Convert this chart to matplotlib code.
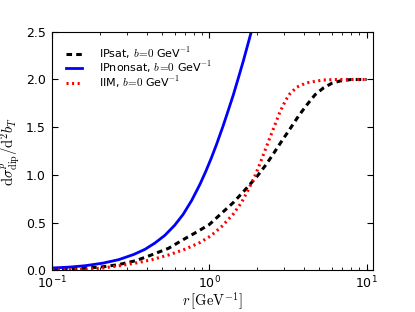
import matplotlib
matplotlib.use("Agg")
import matplotlib.pyplot as plt
from matplotlib.font_manager import FontProperties
from matplotlib.ticker import FormatStrFormatter

plt.rcParams['lines.scale_dashes'] = False

# IPsat
r_ipsat = [0.1, 0.13, 0.162, 0.21, 0.264, 0.34, 0.42, 0.55, 0.68, 0.85, 1.0, 1.2, 1.42, 1.68, 2.0, 2.3, 2.55, 2.9, 3.25, 3.7, 4.15, 4.7, 5.3, 6.0, 6.8, 8.0, 10.0]
v_ipsat = [0.006, 0.012, 0.021, 0.036, 0.058, 0.10, 0.155, 0.23, 0.32, 0.41, 0.48, 0.60, 0.71, 0.84, 0.98, 1.11, 1.22, 1.36, 1.48, 1.62, 1.73, 1.84, 1.91, 1.96, 1.985, 2.0, 2.0]

# IPnonsat
r_nonsat = [0.1, 0.13, 0.162, 0.21, 0.264, 0.33, 0.39, 0.45, 0.52, 0.60, 0.68, 0.77, 0.87, 0.95, 1.03, 1.11, 1.22, 1.32, 1.42, 1.53, 1.64, 1.75, 1.86]
v_nonsat = [0.023, 0.033, 0.047, 0.074, 0.11, 0.165, 0.22, 0.285, 0.365, 0.47, 0.585, 0.73, 0.90, 1.04, 1.18, 1.32, 1.51, 1.68, 1.84, 2.02, 2.19, 2.36, 2.52]

# IIM
r_iim = [0.1, 0.13, 0.162, 0.207, 0.264, 0.34, 0.43, 0.55, 0.70, 0.87, 1.02, 1.2, 1.42, 1.6, 1.75, 1.95, 2.1, 2.25, 2.4, 2.55, 2.81, 3.05, 3.25, 3.6, 4.15, 5.3, 6.5, 10.0]
v_iim = [0.003, 0.005, 0.01, 0.022, 0.045, 0.075, 0.11, 0.16, 0.22, 0.29, 0.36, 0.46, 0.59, 0.71, 0.83, 0.99, 1.12, 1.25, 1.37, 1.48, 1.66, 1.78, 1.85, 1.92, 1.965, 1.995, 2.0, 2.0]

labels = [r'IPsat, $b\!=\!0$ GeV$^{-1}$', r'IPnonsat, $b\!=\!0$ GeV$^{-1}$', r'IIM, $b\!=\!0$ GeV$^{-1}$']

fig = plt.figure(figsize=(4.15, 3.12), dpi=100)
ax = fig.add_axes([0.126, 0.134, 0.773, 0.764])

ax.plot(r_ipsat, v_ipsat, color='black', lw=2.2, dashes=(4, 3), label=labels[0])
ax.plot(r_nonsat, v_nonsat, color='blue', lw=2.0, label=labels[1])
ax.plot(r_iim, v_iim, color='red', lw=2.2, dashes=(1.5, 2.5), label=labels[2])

ax.set_xscale('log')
ax.set_xlim(0.1, 11.0)
ax.set_ylim(0, 2.5)
ax.set_yticks([0.0, 0.5, 1.0, 1.5, 2.0, 2.5])
ax.yaxis.set_major_formatter(FormatStrFormatter('%.1f'))
ax.tick_params(which='both', direction='in', top=True, right=True, labelsize=9)
ax.tick_params(which='major', length=4)
ax.tick_params(which='minor', length=2)
ax.tick_params(axis='x', pad=3.5)
ax.tick_params(axis='y', pad=4.5)

lfp = FontProperties(size=10.5, math_fontfamily='cm')
ax.set_xlabel(r'$r\,[\mathrm{GeV}^{-1}]$', fontproperties=lfp)
ax.xaxis.set_label_coords(0.5, -0.084)
ax.set_ylabel(r'$\mathrm{d}\sigma^p_{\mathrm{dip}}/\mathrm{d}^2b_T$', fontproperties=lfp, labelpad=3)

legfp = FontProperties(size=8, math_fontfamily='cm')
ax.legend(loc='upper left', frameon=False, prop=legfp, handlelength=1.5, labelspacing=-0.1,
          borderaxespad=0.8, handletextpad=1.5)

fig.savefig('out.png', dpi=100)
